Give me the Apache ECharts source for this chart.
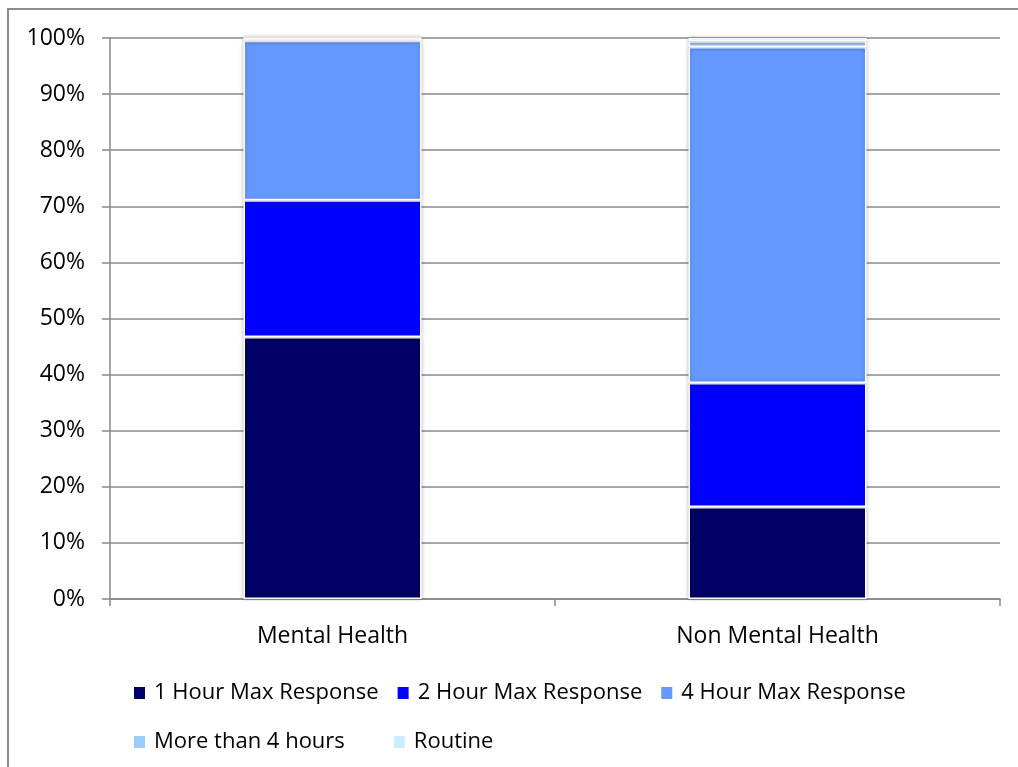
<!DOCTYPE html>
<html>
<head>
<meta charset="utf-8">
<script src="https://cdn.jsdelivr.net/npm/echarts@6/dist/echarts.min.js"></script>
<style>
  html, body { margin: 0; padding: 0; background: #fff; overflow: hidden; }
  #frame { position: absolute; left: 7px; top: 8px; width: 1100px; height: 900px; border: 2px solid #8c8c8c; }
  #main { position: absolute; left: 0; top: 0; width: 1018px; height: 767px; }
</style>
</head>
<body>
<div id="frame"></div>
<div id="main"></div>
<script>
// 分类与各响应级别占比（%）
const categories = ['Mental Health', 'Non Mental Health']
const seriesNames = ['1 Hour Max Response', '2 Hour Max Response', '4 Hour Max Response', 'More than 4 hours', 'Routine']
const oneHour = [46.7, 16.4]
const twoHour = [24.4, 22.1]
const fourHour = [28.4, 59.9]
const moreThanFour = [0.5, 1.0]
const routine = [0.0, 0.6]
const colors = ['#000066', '#0000ff', '#6699ff', '#99ccff', '#ccecff']

const myChart = echarts.init(document.getElementById('main'))
const font = 'Open Sans'

const values = [oneHour, twoHour, fourHour, moreThanFour, routine]
const seriesList = values.map(function (arr, i) {
  return {
    name: seriesNames[i],
    type: 'bar',
    stack: 'total',
    barWidth: '40%',
    data: arr,
    itemStyle: {
      color: colors[i],
      borderColor: '#ffffff',
      borderWidth: 1.5,
      shadowBlur: 4,
      shadowColor: 'rgba(0,0,0,0.25)'
    }
  }
})

const legendText = { fontFamily: font, fontSize: 22, color: '#000', padding: [0, 0, 0, 3] }

const option = {
  animation: false,
  color: colors,
  grid: { left: 110, right: 18, top: 38, bottom: 168 },
  legend: [{
    data: seriesNames.slice(0, 3),
    left: 127,
    top: 677,
    itemWidth: 13,
    itemHeight: 14,
    itemGap: 17,
    icon: 'rect',
    textStyle: legendText
  }, {
    data: seriesNames.slice(3),
    left: 127,
    top: 726,
    itemWidth: 13,
    itemHeight: 14,
    itemGap: 47,
    icon: 'rect',
    textStyle: legendText
  }],
  xAxis: {
    type: 'category',
    data: categories,
    axisLine: { lineStyle: { color: '#888', width: 1.5 } },
    axisTick: { show: true, length: 7, lineStyle: { color: '#888', width: 1.5 } },
    axisLabel: { fontFamily: font, fontSize: 23, color: '#000', margin: 26 }
  },
  yAxis: {
    type: 'value',
    min: 0,
    max: 100,
    interval: 10,
    axisLine: { show: true, lineStyle: { color: '#888', width: 1.5 } },
    axisTick: { show: true, length: 8, lineStyle: { color: '#888', width: 1.5 } },
    axisLabel: {
      fontFamily: font, fontSize: 23, color: '#000', margin: 25,
      formatter: '{value}%'
    },
    splitLine: { lineStyle: { color: '#888', width: 1.5 } }
  },
  series: seriesList
}

option && myChart.setOption(option)
</script>
</body>
</html>
